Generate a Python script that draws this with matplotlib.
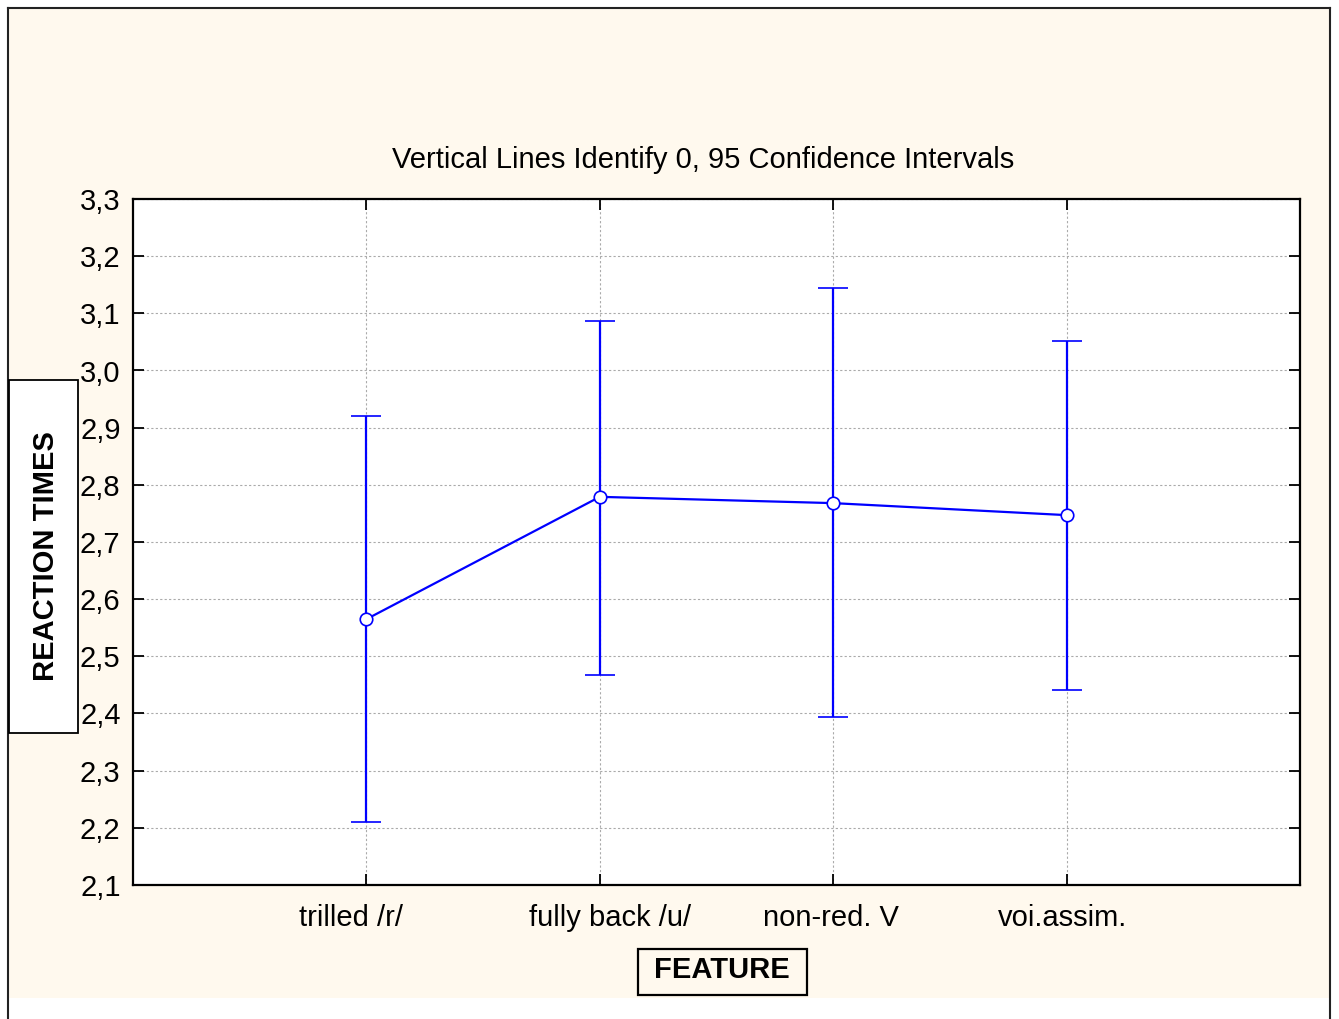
import matplotlib.pyplot as plt
import matplotlib.transforms as mtransforms
from matplotlib.patches import Rectangle
from matplotlib.lines import Line2D

plt.rcParams['font.family'] = ['Liberation Sans', 'DejaVu Sans']

features = ['trilled /r/', 'fully back /u/', 'non-red. V', 'voi.assim.']
means = [2.565, 2.779, 2.768, 2.747]
upper = [2.920, 3.087, 3.144, 3.052]
lower = [2.210, 2.467, 2.394, 2.441]
yticks = [2.1, 2.2, 2.3, 2.4, 2.5, 2.6, 2.7, 2.8, 2.9, 3.0, 3.1, 3.2, 3.3]

W, H = 1339, 1019
fig = plt.figure(figsize=(W / 100, H / 100), dpi=100)
fig.patch.set_facecolor('white')

def fx(px):
    return px / W

def fy(py):
    return 1 - py / H

# cream background panel with outer frame
fig.patches.append(Rectangle((fx(8), fy(998)), fx(1330) - fx(8), fy(8) - fy(998),
                             transform=fig.transFigure, facecolor='#fff9ee',
                             edgecolor='none', zorder=-10))
for xs, ys in [([8, 8], [8, 1019]), ([1330, 1330], [8, 1019]), ([8, 1330], [8, 8])]:
    fig.lines.append(Line2D([fx(x) for x in xs], [fy(y) for y in ys],
                            transform=fig.transFigure, color='#222222', lw=1.5, zorder=-5))

ax = fig.add_axes([fx(133), fy(885), fx(1300) - fx(133), fy(199) - fy(885)])
ax.set_zorder(1)
ax.set_facecolor('white')

x = list(range(1, len(features) + 1))
yerr = [[m - l for m, l in zip(means, lower)], [u - m for u, m in zip(upper, means)]]
ax.errorbar(x, means, yerr=yerr, color='#0000ff', lw=1.6, elinewidth=1.6,
            capsize=11, capthick=1.6, marker='o', markersize=9,
            markerfacecolor='white', markeredgecolor='#0000ff', markeredgewidth=1.2,
            zorder=3)

ax.set_xlim(0, 5)
ax.set_ylim(2.1, 3.3)
ax.set_xticks(x)
ax.set_xticklabels(features)
ax.set_yticks(yticks)
ax.set_yticklabels([f'{v:.1f}'.replace('.', ',') for v in yticks])
ax.grid(True, color='#aaaaaa', ls=(0, (2, 2)), lw=0.8)
ax.tick_params(direction='in', length=8, width=1.3, labelsize=21,
               top=True, right=True, colors='black')
ax.tick_params(axis='x', pad=14)
ax.tick_params(axis='y', pad=9)
for s in ax.spines.values():
    s.set_linewidth(1.6)
    s.set_color('black')

# the original labels sit a little off their ticks
shifts = [-15, 10, -2, -4]
for lab, dx in zip(ax.get_xticklabels(), shifts):
    lab.set_transform(lab.get_transform() +
                      mtransforms.ScaledTranslation(dx / 100, 0, fig.dpi_scale_trans))

fig.text(fx(703), fy(160), 'Vertical Lines Identify 0, 95 Confidence Intervals',
         ha='center', va='center', fontsize=21)

# y label box, drawn under the tick labels
fig.patches.append(Rectangle((fx(9), fy(733)), fx(78) - fx(9), fy(380) - fy(733),
                             transform=fig.transFigure, facecolor='white',
                             edgecolor='black', lw=1.3, zorder=0))
fig.text(fx(46), fy(556), 'REACTION TIMES', rotation=90, ha='center', va='center',
         fontsize=21, fontweight='bold', zorder=0.5)

fig.patches.append(Rectangle((fx(638), fy(995)), fx(807) - fx(638), fy(949) - fy(995),
                             transform=fig.transFigure, facecolor='none',
                             edgecolor='black', lw=1.6, zorder=1))
fig.text(fx(722), fy(970), 'FEATURE', ha='center', va='center',
         fontsize=21, fontweight='bold')

fig.savefig('out.png', dpi=100)
